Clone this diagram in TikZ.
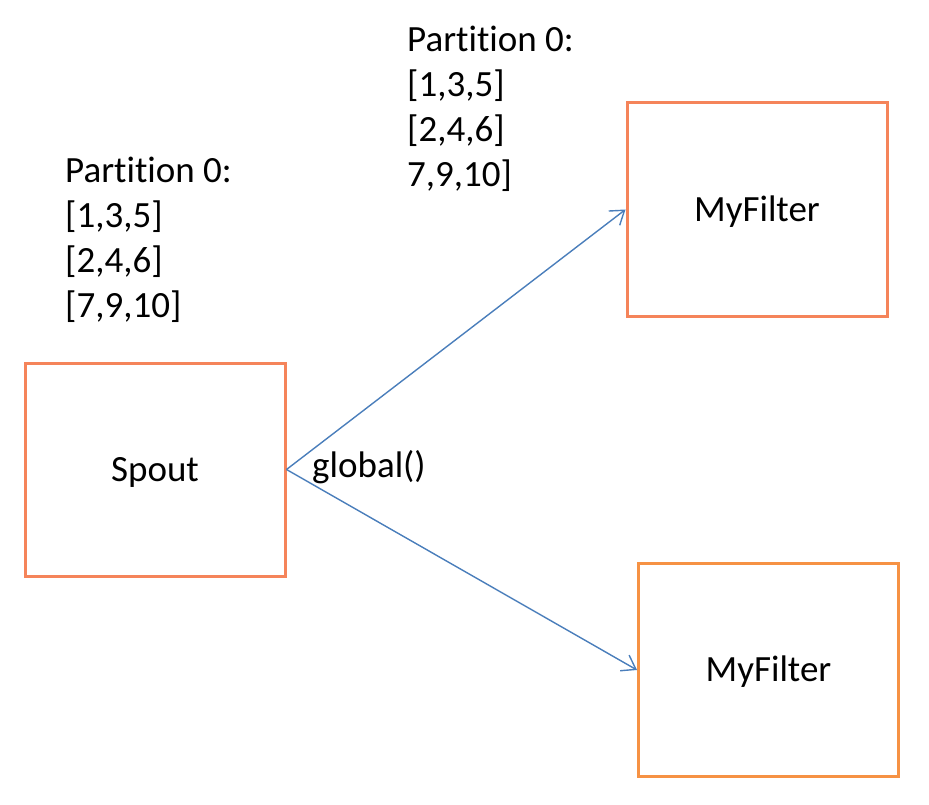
\documentclass[tikz,border=0pt]{standalone}
\usepackage{fontspec}
\setmainfont[Ligatures=NoCommon]{Carlito}
\usetikzlibrary{arrows.meta}
\definecolor{boxA}{HTML}{F5845A}
\definecolor{boxB}{HTML}{F69244}
\definecolor{arrowblue}{HTML}{4A7EBB}
\tikzset{
  box/.style={draw=boxA, line width=3pt, minimum width=260pt, minimum height=213pt,
    inner sep=0pt, text height=23.8pt, text depth=0pt, font=\fontsize{37}{45}\selectfont},
  flow/.style={draw=arrowblue, line width=1.4pt, -{Straight Barb[length=13pt,width=18pt,line width=1.4pt]}},
  block/.style={align=left, inner sep=0pt, font=\fontsize{37}{45}\selectfont},
  lbl/.style={inner sep=0pt, font=\fontsize{37}{45}\selectfont}
}
\begin{document}
\begin{tikzpicture}[x=1pt,y=-1pt]
\useasboundingbox (0,0) rectangle (929,805);
\node[box] (spout) at (155,469.5) {Spout};
\node[box] (f1) at (757,209.5) {MyFilter};
\node[box, draw=boxB] (f2) at (768.5,670) {MyFilter};
\node[block, anchor=base west] (p1) at (65,317) {Partition 0:\\{[1,3,5]}\\{[2,4,6]}\\{[7,9,10]}};
\node[block, anchor=base west] (p2) at (407,187) {Partition 0:\\{[1,3,5]}\\{[2,4,6]}\\7,9,10]};
\node[lbl, anchor=base west] (g) at (312,477) {global()};
\draw[flow] (spout.east) -- (f1.west);
\draw[flow] (spout.east) -- (f2.west);
\end{tikzpicture}
\end{document}
